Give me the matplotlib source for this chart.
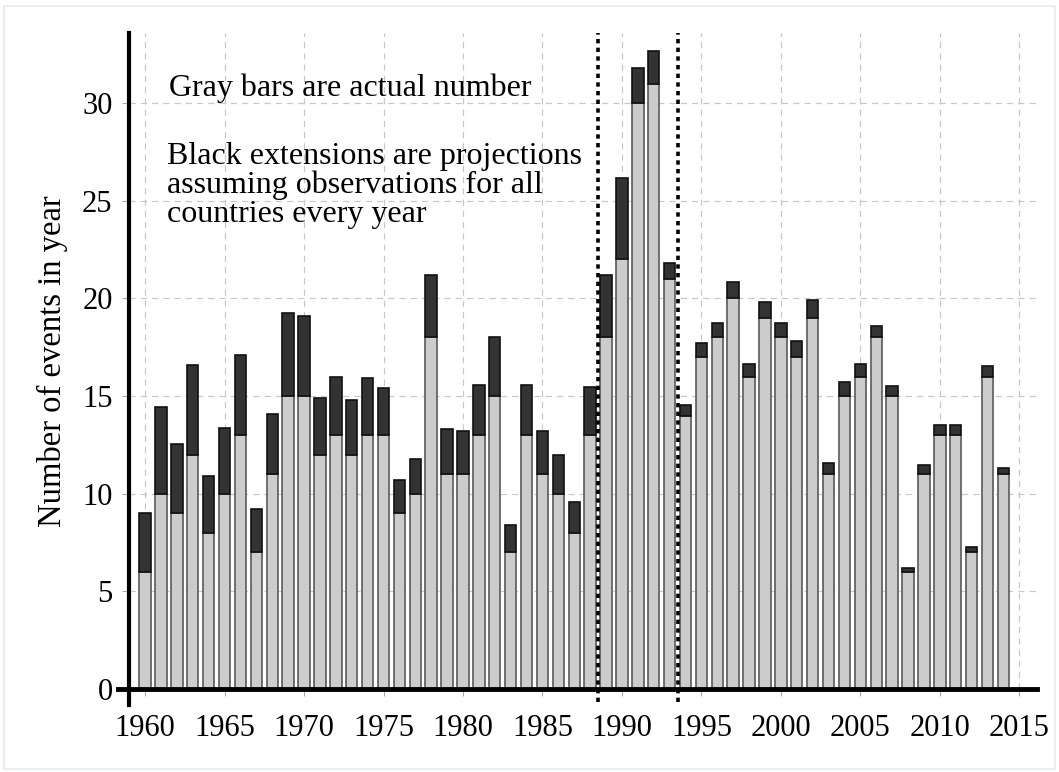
import matplotlib
matplotlib.use("Agg")
import matplotlib.pyplot as plt
from matplotlib.lines import Line2D
from matplotlib.patches import Rectangle

plt.rcParams['font.family'] = ['Liberation Serif', 'DejaVu Serif']

# data
years = list(range(1960, 2015))
actual = [6, 10, 9, 12, 8, 10, 13, 7, 11, 15,
          15, 12, 13, 12, 13, 13, 9, 10, 18, 11,
          11, 13, 15, 7, 13, 11, 10, 8, 13, 18,
          22, 30, 31, 21, 14, 17, 18, 20, 16, 19,
          18, 17, 19, 11, 15, 16, 18, 15, 6, 11,
          13, 13, 7, 16, 11]
projected = [9.0, 14.45, 12.55, 16.6, 10.9, 13.35, 17.1, 9.2, 14.1, 19.25,
             19.1, 14.9, 16.0, 14.8, 15.9, 15.4, 10.7, 11.8, 21.2, 13.3,
             13.2, 15.55, 18.0, 8.4, 15.55, 13.2, 12.0, 9.6, 15.45, 21.2,
             26.15, 31.8, 32.65, 21.8, 14.55, 17.7, 18.75, 20.85, 16.65, 19.8,
             18.75, 17.8, 19.9, 11.55, 15.7, 16.65, 18.6, 15.5, 6.2, 11.45,
             13.5, 13.5, 7.25, 16.55, 11.3]
extension = [p - a for p, a in zip(projected, actual)]
period_lines = [1988.5, 1993.5]
xticks = list(range(1960, 2016, 5))
yticks = list(range(0, 31, 5))

fig = plt.figure(figsize=(10.59, 7.72), dpi=100)
ax = fig.add_axes([0.122, 0.1075, 0.857, 0.85])

ax.bar(years, actual, width=0.72, color='#cccccc', edgecolor='#5a5a5a', linewidth=1.2, zorder=3)
ax.bar(years, extension, bottom=actual, width=0.72, color='#333333', edgecolor='#111111',
       linewidth=1.2, zorder=3)

for xv in period_lines:
    ax.plot([xv, xv], [-0.02, 1.0], color='black', linestyle=(0, (1.2, 1.2)), linewidth=2.6,
            transform=ax.get_xaxis_transform(), clip_on=False, zorder=4)

ax.set_xlim(1959.0, 2016.1)
ax.set_ylim(0, 33.6)
ax.set_xticks(xticks)
ax.set_yticks(yticks)
ax.tick_params(axis='both', labelsize=22, color='#aaaaaa', length=5, width=0.8)
ax.tick_params(axis='x', pad=13)
ax.tick_params(axis='y', pad=7)
ax.grid(True, color='#c8c8c8', linestyle=(0, (5, 4)), linewidth=0.9, zorder=0)
ax.set_axisbelow(True)

for s in ax.spines.values():
    s.set_visible(False)
# Stata-style crossing axis lines
ax.add_line(Line2D([0, 0], [-0.025, 1.0], color='black', linewidth=3, transform=ax.transAxes,
                   clip_on=False, zorder=5))
ax.add_line(Line2D([-0.012, 1.0], [0, 0], color='black', linewidth=3.5, transform=ax.transAxes,
                   clip_on=False, zorder=5))

ax.set_ylabel('Number of events in year', fontsize=23.5, labelpad=10)

ax.text(1961.5, 30.75, 'Gray bars are actual number', fontsize=23, va='center', ha='left')
ax.text(1961.4, 28.0, 'Black extensions are projections\nassuming observations for all\ncountries every year',
        fontsize=23, va='top', ha='left', linespacing=0.98)

fig.patches.append(Rectangle((0.004, 0.004), 0.992, 0.988, transform=fig.transFigure, fill=False,
                             edgecolor='#e4ecf0', linewidth=1.2))

fig.savefig('out.png', dpi=100)
